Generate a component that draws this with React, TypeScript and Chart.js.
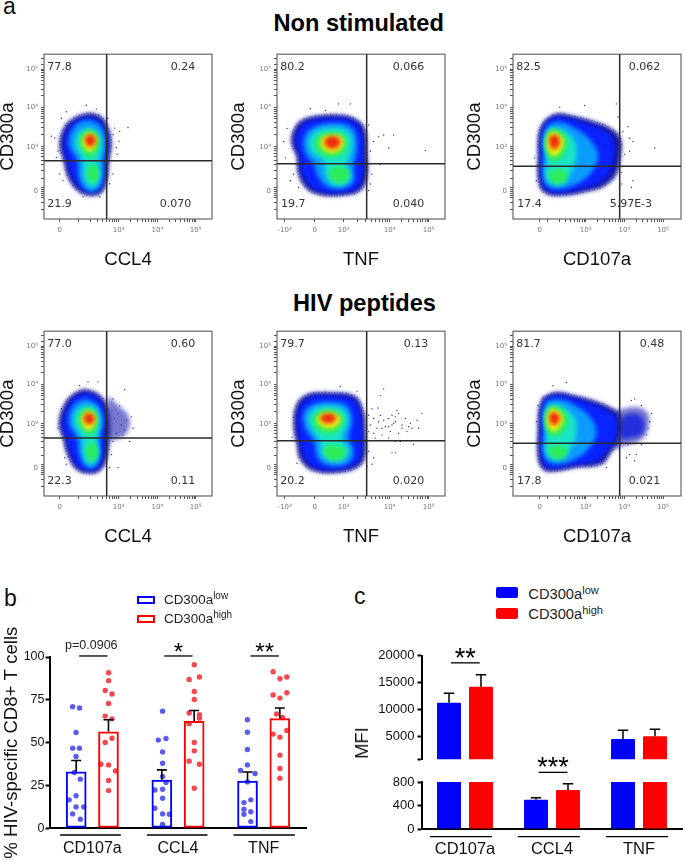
import React, { useEffect, useRef } from "react";
import { Chart, registerables } from "chart.js";

Chart.register(...registerables);

// ---------- Flow plots: axis channels run 0..504 on both axes ----------
const yTickValues = [458, 342, 221, 84];
const yTickLabels = ["10⁵", "10⁴", "10³", "0"];
const ccl4TickValues = [47, 103, 224, 340, 455];
const ccl4TickLabels = ["0", "", "10³", "10⁴", "10⁵"];
const tnfTickValues = [23, 113, 200, 338, 455];
const tnfTickLabels = ["-10³", "0", "10³", "10⁴", "10⁵"];
const cd107TickValues = [80, 104, 218, 334, 450];
const cd107TickLabels = ["0", "", "10³", "10⁴", "10⁵"];

const p1Navy = [[137,325],[172,313],[195,273],[202,228],[195,178],[189,118],[172,80],[142,71],[102,86],[72,128],[59,178],[47,228],[62,283],[97,313]];
const p1Blue = [[137,312],[165,300],[185,265],[190,225],[185,178],[180,120],[165,92],[142,84],[108,97],[82,135],[70,178],[60,228],[75,278],[105,303]];
const p1Azure = [[137,303],[167,288],[185,238],[179,178],[175,118],[157,88],[132,86],[107,118],[99,178],[75,228],[85,273],[107,296]];
const p1Cyan = [[135,280],[162,266],[172,228],[165,178],[167,128],[152,100],[135,100],[119,128],[117,178],[95,223],[102,263]];
const p1GreenUp = [[137,273],[159,258],[167,233],[152,198],[137,188],[119,203],[105,233],[115,260]];
const p1GreenLow = [[147,171],[163,148],[160,123],[147,110],[133,123],[130,148]];
const p1Yellow = [[137,265],[155,253],[157,233],[147,210],[135,206],[122,218],[115,238],[122,256]];
const p1Red = [[139,260],[153,250],[154,233],[142,221],[129,226],[123,240],[127,253]];
const p1Dots = [[207,258],[227,268],[252,280],[217,218],[212,178],[207,138],[42,208],[32,248],[22,253],[52,308],[67,328],[127,348],[157,336],[192,308],[47,138],[57,118],[117,68],[167,68],[197,108],[37,188],[212,278],[219,198],[225,238]];

const p2Navy = [[115,315],[175,319],[230,309],[263,277],[270,197],[270,127],[250,87],[195,72],[125,75],[85,97],[63,142],[60,187],[43,237],[55,282],[80,305]];
const p2Blue = [[120,305],[175,309],[227,299],[253,269],[260,197],[257,132],[240,95],[195,82],[130,85],[95,107],[73,147],[70,192],[55,237],[67,275],[88,297]];
const p2Azure = [[145,292],[195,292],[230,272],[240,217],[230,157],[230,117],[205,95],[155,97],[125,127],[110,167],[85,202],[80,242],[100,275]];
const p2Cyan = [[155,279],[200,275],[223,252],[223,207],[210,167],[220,127],[200,105],[165,107],[145,137],[140,177],[110,197],[95,237],[120,269]];
const p2GreenUp = [[160,265],[195,259],[210,237],[200,202],[170,189],[135,197],[113,222],[125,255]];
const p2GreenLow = [[185,162],[210,152],[217,132],[200,112],[175,112],[157,132],[163,152]];
const p2Yellow = [[160,257],[187,255],[200,237],[190,212],[165,202],[140,212],[130,232],[140,252]];
const p2Red = [[163,254],[183,249],[190,235],[180,219],[163,215],[148,222],[142,237],[150,249]];
const p2Dots = [[275,287],[290,237],[305,252],[335,217],[320,257],[350,257],[445,210],[280,207],[285,137],[280,107],[20,237],[30,277],[25,187],[40,117],[50,137],[65,97],[185,352],[220,352],[100,337],[145,332],[310,167],[275,87]];

const p3Navy = [[95,302],[130,322],[180,315],[240,299],[290,279],[322,247],[322,187],[310,137],[275,102],[225,85],[150,72],[100,77],[78,107],[75,197],[78,267]];
const p3Blue = [[98,294],[130,312],[180,305],[235,287],[280,267],[302,237],[302,187],[290,142],[260,112],[220,97],[150,82],[105,87],[87,112],[83,197],[86,262]];
const p3Azure = [[105,287],[140,297],[190,275],[235,237],[255,192],[235,142],[190,107],[140,92],[102,102],[90,137],[92,197],[90,252]];
const p3Cyan = [[115,279],[150,272],[185,237],[190,192],[175,142],[150,109],[115,107],[97,132],[102,187],[95,242]];
const p3GreenUp = [[122,275],[150,262],[165,232],[150,192],[125,175],[102,197],[98,242],[105,267]];
const p3GreenLow = [[135,155],[160,142],[158,117],[135,107],[112,119],[110,142]];
const p3Yellow = [[122,267],[143,255],[152,232],[138,202],[120,192],[105,212],[102,242],[110,262]];
const p3Red = [[123,259],[137,250],[140,232],[130,215],[117,215],[110,232],[110,249]];
const p3Dots = [[330,267],[345,282],[360,237],[335,197],[350,207],[425,217],[360,117],[355,97],[325,107],[310,352],[215,347],[140,342],[65,187],[70,117],[350,247],[315,312],[325,142]];

const p4Cloud = [[192,307],[217,282],[252,247],[255,207],[232,179],[192,177]];
const p4Navy = [[122,327],[162,312],[189,277],[197,207],[189,117],[167,77],[137,69],[97,82],[70,127],[57,177],[45,222],[62,282],[92,314]];
const p4Blue = [[122,315],[157,302],[179,267],[185,207],[179,122],[162,87],[137,79],[102,92],[79,132],[67,177],[57,222],[72,275],[95,305]];
const p4Azure = [[129,297],[162,277],[177,227],[167,177],[167,117],[152,89],[129,87],[107,122],[99,177],[75,222],[82,267],[102,289]];
const p4Cyan = [[132,279],[157,265],[167,222],[160,177],[164,127],[147,99],[129,102],[117,132],[115,177],[92,217],[97,259]];
const p4GreenUp = [[132,269],[155,255],[162,232],[149,195],[133,185],[117,202],[102,232],[110,257]];
const p4GreenLow = [[144,167],[159,147],[159,122],[144,105],[129,122],[127,147]];
const p4Yellow = [[132,262],[149,252],[155,232],[145,207],[132,201],[119,212],[112,232],[119,252]];
const p4Red = [[134,255],[149,245],[151,229],[139,219],[125,223],[119,237],[125,250]];
const p4Dots = [[262,242],[267,207],[242,325],[207,297],[227,275],[212,237],[232,217],[247,232],[217,192],[202,127],[222,87],[197,87],[257,167],[132,349],[162,349],[107,337],[52,267],[42,207],[62,117],[67,97],[207,167],[237,187],[222,252],[242,202]];

const p5Navy = [[145,317],[230,307],[257,267],[265,197],[263,117],[240,87],[185,72],[110,77],[70,112],[60,157],[50,217],[60,282],[95,312]];
const p5Blue = [[145,307],[225,297],[247,262],[255,197],[252,122],[233,97],[185,82],[115,87],[80,122],[70,162],[62,217],[70,275],[100,302]];
const p5Azure = [[150,289],[205,279],[225,237],[215,177],[230,137],[215,102],[165,92],[125,112],[110,167],[85,207],[80,252],[105,279]];
const p5Cyan = [[150,275],[195,267],[213,232],[195,177],[215,142],[200,112],[165,107],[135,127],[130,167],[105,202],[95,242],[115,267]];
const p5GreenUp = [[153,265],[187,255],[200,235],[185,202],[155,189],[125,199],[107,232],[123,257]];
const p5GreenLow = [[175,157],[203,142],[200,119],[175,109],[150,117],[140,139],[153,155]];
const p5Yellow = [[153,257],[180,249],[190,235],[180,215],[155,207],[133,215],[120,235],[132,251]];
const p5Red = [[153,253],[170,249],[177,237],[167,225],[150,222],[135,229],[130,241],[138,249]];
const p5Dots = [[285,267],[303,269],[310,307],[320,327],[275,247],[290,237],[305,227],[320,232],[335,237],[355,242],[365,252],[385,237],[435,252],[420,232],[400,222],[375,217],[350,222],[325,212],[300,207],[280,217],[290,192],[315,187],[340,197],[365,192],[390,197],[405,207],[425,207],[360,262],[345,247],[310,247],[275,197],[295,177],[335,177],[355,167],[370,167],[410,157],[345,132],[355,132],[275,137],[290,117],[285,97],[335,212],[375,207],[315,207],[395,212],[355,227],[345,217],[50,240],[45,180],[190,335],[240,320],[60,100],[270,90]];

const p6Cloud = [[310,262],[370,272],[405,252],[405,207],[385,172],[330,152],[300,147]];
const p6CloudCore = [[325,242],[365,252],[392,232],[388,192],[350,177],[323,177]];
const p6Navy = [[90,302],[130,317],[185,307],[240,292],[290,272],[320,247],[318,177],[290,127],[265,97],[190,87],[120,75],[90,82],[75,117],[75,207],[78,267]];
const p6Blue = [[93,295],[130,307],[185,297],[235,282],[280,262],[310,237],[308,182],[280,137],[250,107],[190,97],[125,85],[95,92],[85,122],[83,207],[86,262]];
const p6Azure = [[100,289],[140,295],[190,275],[235,237],[250,192],[225,142],[185,112],[135,97],[102,107],[90,142],[92,202],[90,252]];
const p6Cyan = [[112,282],[150,272],[185,237],[190,192],[175,147],[150,117],[115,115],[97,137],[102,192],[95,247]];
const p6GreenUp = [[120,277],[150,262],[165,232],[150,197],[125,182],[102,197],[97,242],[105,267]];
const p6GreenLow = [[132,157],[158,147],[158,122],[135,112],[112,122],[108,147]];
const p6Yellow = [[120,269],[142,255],[150,235],[138,207],[120,197],[105,215],[102,242],[110,262]];
const p6Red = [[122,257],[136,250],[140,235],[130,219],[117,219],[110,235],[110,250]];
const p6Dots = [[415,252],[405,207],[365,297],[385,277],[350,127],[370,127],[365,107],[320,87],[340,117],[280,87],[160,347],[120,337],[75,277],[70,227],[400,187],[410,227],[385,157],[345,157],[355,292]];

const navyColor = "#14149c";
const blueColor = "#0a24ff";
const azureColor = "#0c9cff";
const cyanColor = "#18e4c8";
const greenColor = "#2cec58";
const yellowColor = "#f4f010";
const redColor = "#ee2a10";

const flowPlots = [
  { left: 44, top: 51, xTitle: "CCL4", xTicks: ccl4TickValues, xLabels: ccl4TickLabels, gate: [188, 178], titlePad: 3,
    quads: [["77.8", 10, 464], ["0.24", 380, 464], ["21.9", 10, 45], ["0.070", 347, 45]],
    clouds: [], levels: [p1Navy, p1Blue, p1Azure, p1Cyan, p1GreenUp, p1GreenLow, p1Yellow, p1Red], dots: p1Dots },
  { left: 277, top: 51, xTitle: "TNF", xTicks: tnfTickValues, xLabels: tnfTickLabels, gate: [269, 169], titlePad: 1,
    quads: [["80.2", 10, 464], ["0.066", 347, 464], ["19.7", 12, 45], ["0.040", 347, 45]],
    clouds: [], levels: [p2Navy, p2Blue, p2Azure, p2Cyan, p2GreenUp, p2GreenLow, p2Yellow, p2Red], dots: p2Dots },
  { left: 513, top: 51, xTitle: "CD107a", xTicks: cd107TickValues, xLabels: cd107TickLabels, gate: [320, 161], titlePad: 1,
    quads: [["82.5", 10, 464], ["0.062", 347, 464], ["17.4", 13, 45], ["5.97E-3", 290, 45]],
    clouds: [], levels: [p3Navy, p3Blue, p3Azure, p3Cyan, p3GreenUp, p3GreenLow, p3Yellow, p3Red], dots: p3Dots },
  { left: 44, top: 328, xTitle: "CCL4", xTicks: ccl4TickValues, xLabels: ccl4TickLabels, gate: [188, 177], titlePad: 3,
    quads: [["77.0", 10, 464], ["0.60", 380, 464], ["22.3", 10, 45], ["0.11", 380, 45]],
    clouds: [[p4Cloud, "rgba(10,10,170,0.55)"]], levels: [p4Navy, p4Blue, p4Azure, p4Cyan, p4GreenUp, p4GreenLow, p4Yellow, p4Red], dots: p4Dots },
  { left: 277, top: 328, xTitle: "TNF", xTicks: tnfTickValues, xLabels: tnfTickLabels, gate: [269, 169], titlePad: 1,
    quads: [["79.7", 10, 464], ["0.13", 380, 464], ["20.2", 10, 45], ["0.020", 347, 45]],
    clouds: [], levels: [p5Navy, p5Blue, p5Azure, p5Cyan, p5GreenUp, p5GreenLow, p5Yellow, p5Red], dots: p5Dots },
  { left: 513, top: 328, xTitle: "CD107a", xTicks: cd107TickValues, xLabels: cd107TickLabels, gate: [320, 161], titlePad: 1,
    quads: [["81.7", 10, 464], ["0.48", 380, 464], ["17.8", 12, 45], ["0.021", 347, 45]],
    clouds: [[p6Cloud, "rgba(10,10,170,0.55)"], [p6CloudCore, "rgba(16,30,225,0.8)"]], levels: [p6Navy, p6Blue, p6Azure, p6Cyan, p6GreenUp, p6GreenLow, p6Yellow, p6Red], dots: p6Dots },
];
const levelColors = [navyColor, blueColor, azureColor, cyanColor, greenColor, greenColor, yellowColor, redColor];

// ---------- Panel b ----------
const categories = ["CD107a", "CCL4", "TNF"];
const pctLow = [33.1, 28.3, 27.7];
const pctHigh = [56.5, 62.6, 64.3];
const pctLowUpper = [39.6, 34.1, 32.9];
const pctHighUpper = [63.4, 68.8, 70.2];
const dotsLow = [
  [.27,71],[.35,70.2],[.31,55.9],[.27,46.8],[.35,46.8],[.31,41.9],[.29,32.6],[.36,28.7],[.31,19],[.23,16.6],[.31,12.5],[.40,12.5],[.27,8.4],[.36,5.3],
  [1.32,68.4],[1.27,51.5],[1.36,52.4],[1.32,44.6],[1.32,38],[1.32,30.2],[1.36,26.7],[1.23,22.4],[1.32,22.8],[1.32,17.5],[1.23,11.7],[1.32,8.4],[1.40,8.2],[1.32,2.3],
  [2.31,63.4],[2.31,56.1],[2.31,46],[2.31,37],[2.23,33.7],[2.40,32],[2.31,27.1],[2.35,16.6],[2.27,15],[2.27,11.1],[2.35,9.7],[2.27,8.2],[2.35,3.9],
];
const dotsHigh = [
  [.69,90.8],[.69,86.2],[.65,80.5],[.73,78.4],[.69,72.9],[.65,65.5],[.73,63.9],[.73,52.6],[.65,50.1],[.60,37.4],[.69,37],[.77,33.5],[.69,27.9],[.69,22],
  [1.69,95.5],[1.63,86.9],[1.75,88.3],[1.69,79.9],[1.69,75.2],[1.63,67.3],[1.75,66.3],[1.75,64.3],[1.63,61],[1.69,50.1],[1.69,45.2],[1.63,39.2],[1.75,37.4],[1.69,23.4],
  [2.61,91.4],[2.69,87.3],[2.77,88.3],[2.61,77.8],[2.77,79.1],[2.69,76],[2.65,66.7],[2.72,64.7],[2.61,55],[2.77,57.1],[2.69,53.2],[2.69,42.7],[2.69,34.9],[2.69,29.2],
];
const pctBrackets = [[.125,.833],[1.136,1.844],[2.148,2.864]];
const pctSig = [[.346,.677,"p=0.0906"],[1.339,1.67,"*"],[2.346,2.677,"**"]];

// ---------- Panel c ----------
const mfiLow = [11322, 499, 4600];
const mfiHigh = [14253, 664, 5115];
const mfiLowUpper = [13046, 533, 6207];
const mfiHighUpper = [16494, 772, 6380];
const mfiBrackets = [[.096,.808],[1.107,1.82],[2.119,2.835]];
const mfiSigUpper = [[.337,.67,"**"]];
const mfiSigLower = [[1.345,1.678,"***"]];

const SANS = "'Liberation Sans', Arial, sans-serif";
const closed = (a: number[][]) => [...a, a[0]].map(([x, y]) => ({ x, y }));
const points = (a: number[][]) => a.map(([x, y]) => ({ x, y }));

function withMinors(majors: number[], labelled: number[]) {
  const out = new Set<number>(majors);
  const deg = [...labelled].sort((p, q) => p - q);
  for (let i = 0; i + 1 < deg.length; i++) {
    const span = deg[i + 1] - deg[i];
    for (let k = 2; k < 10; k++) out.add(Math.round(deg[i] + span * Math.log10(k)));
  }
  return [...out];
}

function makeFlow(canvas: HTMLCanvasElement, plot: any) {
  const datasets: any[] = [];
  const layers = [
    ...plot.clouds.map(([a, c]: any) => ({ a, c })),
    ...plot.levels.map((a: number[][], i: number) => ({ a, c: levelColors[i] })),
  ];
  layers.forEach((l: any, i: number) => {
    datasets.push({
      data: closed(l.a), showLine: true, fill: "shape", backgroundColor: l.c, tension: 0.4,
      borderColor: "transparent", borderWidth: 0, pointRadius: 0, order: layers.length - i,
    });
  });
  // speckled rim of the population
  datasets.push({
    data: closed(plot.levels[0]), isDots: true, showLine: true, fill: false, tension: 0.4,
    borderColor: "rgba(30,30,130,0.5)", borderWidth: 1.5, borderDash: [0.7, 2.3, 1.2, 1.6], pointRadius: 0, order: -1,
  });
  datasets.push({ data: points(plot.dots), isDots: true, showLine: false, pointRadius: 0.7, pointBorderWidth: 0, pointBackgroundColor: "#30309a", order: -2 });

  const xDeg = plot.xTicks.filter((_: number, i: number) => i >= 1);
  const xAll = withMinors(plot.xTicks, xDeg.slice(plot.xLabels[1] === "" ? 0 : 1));
  const yAll = withMinors(yTickValues, [84, 221, 342, 458]).concat([30, 50, 66, 72, 78, 90, 96, 474, 490]);
  const quadPlugin = {
    id: "flowLayer",
    beforeDatasetsDraw(c: any) { c.ctx.filter = "blur(2px)"; },
    beforeDatasetDraw(c: any, a: any) { c.ctx.filter = c.data.datasets[a.index].isDots ? "none" : "blur(2px)"; },
    afterDatasetsDraw(c: any) {
      const { ctx, chartArea: ca, scales } = c;
      ctx.filter = "none";
      ctx.save();
      ctx.strokeStyle = "#666"; ctx.lineWidth = 1.2;
      ctx.strokeRect(ca.left, ca.top, ca.right - ca.left, ca.bottom - ca.top);
      ctx.strokeStyle = "#2a2a2a"; ctx.lineWidth = 1.5;
      const gx = scales.x.getPixelForValue(plot.gate[0]);
      const gy = scales.y.getPixelForValue(plot.gate[1]);
      ctx.beginPath(); ctx.moveTo(gx, ca.top); ctx.lineTo(gx, ca.bottom);
      ctx.moveTo(ca.left, gy); ctx.lineTo(ca.right, gy); ctx.stroke();
      ctx.fillStyle = "#333"; ctx.font = "11px 'DejaVu Sans'"; ctx.textBaseline = "middle"; ctx.textAlign = "left";
      plot.quads.forEach(([t, x, y]: any) => ctx.fillText(t, scales.x.getPixelForValue(x), scales.y.getPixelForValue(y)));
      ctx.restore();
    },
  };
  const tickFont = { family: "'DejaVu Sans'", size: 7 };
  return new Chart(canvas, {
    type: "scatter",
    data: { datasets },
    plugins: [quadPlugin],
    options: {
      animation: false, responsive: false, devicePixelRatio: 1,
      layout: { padding: { left: 0, top: 4, right: 4, bottom: 0 } },
      plugins: { legend: { display: false }, tooltip: { enabled: false } },
      events: [],
      scales: {
        x: {
          type: "linear", min: 0, max: 504,
          grid: { drawOnChartArea: false, tickLength: 3, tickColor: "#555", tickWidth: 1 },
          border: { display: false },
          afterBuildTicks: (s: any) => { s.ticks = xAll.map((value: number) => ({ value })); },
          afterFit: (s: any) => { s.height = 52; },
          ticks: {
            autoSkip: false, maxRotation: 0, color: "#777", font: tickFont, padding: 4,
            callback: (v: any) => { const i = plot.xTicks.indexOf(v); return i >= 0 ? plot.xLabels[i] : ""; },
          },
          title: { display: true, text: plot.xTitle, color: "#111", font: { family: SANS, size: 18.6 }, padding: { top: 3, bottom: 0 } },
        },
        y: {
          type: "linear", min: 0, max: 504,
          grid: { drawOnChartArea: false, tickLength: 3, tickColor: "#555", tickWidth: 1 },
          border: { display: false },
          afterBuildTicks: (s: any) => { s.ticks = yAll.map((value: number) => ({ value })); },
          afterFit: (s: any) => { s.width = 50; },
          ticks: {
            autoSkip: false, color: "#777", font: tickFont, padding: 3,
            callback: (v: any) => { const i = yTickValues.indexOf(v); return i >= 0 ? yTickLabels[i] : ""; },
          },
          title: { display: true, text: "CD300a", color: "#111", font: { family: SANS, size: 18.6 }, padding: { top: plot.titlePad, bottom: 0 } },
        },
      },
    } as any,
  });
}

function overlayPlugin(cfg: { capWidth: number; lineWidth: number; brackets: number[][]; bracketY: number; sig: any[]; sigAt: number; starFont: string; textFont: string }) {
  return {
    id: "overlay",
    afterDatasetsDraw(c: any) {
      const { ctx, scales } = c;
      ctx.save();
      ctx.strokeStyle = "#000"; ctx.fillStyle = "#000";
      c.data.datasets.forEach((d: any, i: number) => {
        if (!d.upper) return;
        c.getDatasetMeta(i).data.forEach((bar: any, j: number) => {
          const v = d.data[j]; const u = d.upper[j];
          if (v < scales.y.min || u > scales.y.max) return;
          const y0 = scales.y.getPixelForValue(v); const y1 = scales.y.getPixelForValue(u);
          ctx.lineWidth = cfg.lineWidth;
          ctx.beginPath(); ctx.moveTo(bar.x, y0); ctx.lineTo(bar.x, y1);
          ctx.moveTo(bar.x - cfg.capWidth / 2, y1); ctx.lineTo(bar.x + cfg.capWidth / 2, y1); ctx.stroke();
        });
      });
      ctx.lineWidth = 1.3;
      cfg.brackets.forEach(([a, b]) => {
        ctx.beginPath();
        ctx.moveTo(scales.xUnits.getPixelForValue(a), scales.y.bottom + cfg.bracketY);
        ctx.lineTo(scales.xUnits.getPixelForValue(b), scales.y.bottom + cfg.bracketY);
        ctx.stroke();
      });
      cfg.sig.forEach(([a, b, text]) => {
        const y = scales.y.getPixelForValue(cfg.sigAt);
        const x0 = scales.xUnits.getPixelForValue(a); const x1 = scales.xUnits.getPixelForValue(b);
        ctx.beginPath(); ctx.moveTo(x0, y); ctx.lineTo(x1, y); ctx.stroke();
        ctx.textAlign = "center";
        if (text.startsWith("*")) {
          ctx.font = cfg.starFont; ctx.textBaseline = "alphabetic"; ctx.fillText(text, (x0 + x1) / 2, y + 4);
        } else {
          ctx.font = cfg.textFont; ctx.fillStyle = "#222"; ctx.textBaseline = "middle"; ctx.fillText(text, (x0 + x1) / 2 - 2, y - 10); ctx.fillStyle = "#000";
        }
      });
      ctx.restore();
    },
  };
}

const sharedY = (extra: any) => ({
  border: { color: "#000", width: 2 },
  grid: { drawOnChartArea: false, tickLength: 4, tickColor: "#000", tickWidth: 2 },
  ...extra,
});

function makePctDots(canvas: HTMLCanvasElement) {
  return new Chart(canvas, {
    type: "scatter",
    data: {
      datasets: [
        { data: points(dotsLow), pointRadius: 2.7, pointBorderWidth: 0, pointBackgroundColor: "#5a5cf0" },
        { data: points(dotsHigh), pointRadius: 2.7, pointBorderWidth: 0, pointBackgroundColor: "#f2484e" },
      ],
    },
    options: {
      animation: false, responsive: false, devicePixelRatio: 1, events: [],
      layout: { padding: { left: 49.5, top: 37, right: 33.5, bottom: 32.7 } },
      plugins: { legend: { display: false }, tooltip: { enabled: false } },
      scales: {
        x: { type: "linear", display: false, min: 0, max: 3 },
        y: { type: "linear", display: false, min: 0, max: 100 },
      },
    } as any,
  });
}

function makePct(canvas: HTMLCanvasElement) {
  return new Chart(canvas, {
    type: "bar",
    data: {
      labels: categories,
      datasets: [
        { data: pctLow, upper: pctLowUpper, backgroundColor: "transparent", borderColor: "#0000ff", borderWidth: 2, borderSkipped: false, categoryPercentage: 0.754, barPercentage: 0.64 },
        { data: pctHigh, upper: pctHighUpper, backgroundColor: "transparent", borderColor: "#ff0000", borderWidth: 2, borderSkipped: false, categoryPercentage: 0.754, barPercentage: 0.64 },
      ],
    },
    plugins: [overlayPlugin({ capWidth: 10, lineWidth: 1.6, brackets: pctBrackets, bracketY: 6.7, sig: pctSig, sigAt: 100.6, starFont: `24px ${SANS}`, textFont: `12.5px ${SANS}` })],
    options: {
      animation: false, responsive: false, devicePixelRatio: 1, events: [],
      layout: { padding: { left: 0, top: 37, right: 33.5, bottom: 0 } },
      plugins: { legend: { display: false }, tooltip: { enabled: false } },
      scales: {
        x: {
          type: "category", grid: { display: false, drawTicks: false }, border: { color: "#000", width: 2 },
          afterFit: (s: any) => { s.height = 32.7; },
          ticks: { color: "#111", font: { family: SANS, size: 16 }, padding: 11, maxRotation: 0 },
        },
        xUnits: { type: "linear", display: false, min: 0, max: 3, offset: false },
        y: sharedY({
          min: 0, max: 100,
          afterFit: (s: any) => { s.width = 49.5; },
          ticks: { stepSize: 25, color: "#111", font: { family: SANS, size: 12.5 }, padding: 1 },
          title: { display: true, text: "% HIV-specific CD8+ T cells", color: "#111", font: { family: SANS, size: 18.6 }, padding: { top: 1, bottom: 0 } },
        }),
      },
    } as any,
  });
}

function mfiDatasets() {
  return [
    { data: mfiLow, upper: mfiLowUpper, backgroundColor: "#0000ff", borderRadius: 1, borderSkipped: false, categoryPercentage: 0.735, barPercentage: 0.75 },
    { data: mfiHigh, upper: mfiHighUpper, backgroundColor: "#ff0000", borderRadius: 1, borderSkipped: false, categoryPercentage: 0.735, barPercentage: 0.75 },
  ];
}

function makeMfiUpper(canvas: HTMLCanvasElement) {
  return new Chart(canvas, {
    type: "bar",
    data: { labels: categories, datasets: mfiDatasets() as any },
    plugins: [overlayPlugin({ capWidth: 10.5, lineWidth: 1.5, brackets: [], bracketY: 0, sig: mfiSigUpper, sigAt: 18678, starFont: `27px ${SANS}`, textFont: `12px ${SANS}` })],
    options: {
      animation: false, responsive: false, devicePixelRatio: 1, events: [],
      layout: { padding: { left: 0, top: 25.7, right: 2.5, bottom: 0 } },
      plugins: { legend: { display: false }, tooltip: { enabled: false } },
      scales: {
        x: { type: "category", display: false, grid: { display: false } },
        xUnits: { type: "linear", display: false, min: 0, max: 3, offset: false },
        y: sharedY({
          min: 860, max: 20000,
          afterFit: (s: any) => { s.width = 81.5; },
          afterBuildTicks: (s: any) => { s.ticks = [860, 5000, 10000, 15000, 20000].map((value) => ({ value })); },
          ticks: { color: "#111", font: { family: SANS, size: 13 }, padding: 3, callback: (v: any) => (v === 860 ? "" : String(v)) },
        }),
      },
    } as any,
  });
}

function makeMfiLower(canvas: HTMLCanvasElement) {
  return new Chart(canvas, {
    type: "bar",
    data: { labels: categories, datasets: mfiDatasets() as any },
    plugins: [overlayPlugin({ capWidth: 10.5, lineWidth: 1.5, brackets: mfiBrackets, bracketY: 7.7, sig: mfiSigLower, sigAt: 964, starFont: `27px ${SANS}`, textFont: `12px ${SANS}` })],
    options: {
      animation: false, responsive: false, devicePixelRatio: 1, events: [],
      layout: { padding: { left: 0, top: 37, right: 2.5, bottom: 0 } },
      plugins: { legend: { display: false }, tooltip: { enabled: false } },
      scales: {
        x: {
          type: "category", grid: { display: false, drawTicks: false }, border: { color: "#000", width: 2 },
          afterFit: (s: any) => { s.height = 32; },
          ticks: { color: "#111", font: { family: SANS, size: 16.5 }, padding: 11, maxRotation: 0 },
        },
        xUnits: { type: "linear", display: false, min: 0, max: 3, offset: false },
        y: sharedY({
          min: 0, max: 800,
          afterFit: (s: any) => { s.width = 81.5; },
          ticks: { stepSize: 400, color: "#111", font: { family: SANS, size: 13 }, padding: 3 },
        }),
      },
    } as any,
  });
}

const abs = (left: number, top: number, extra: React.CSSProperties = {}): React.CSSProperties => ({ position: "absolute", left, top, whiteSpace: "nowrap", ...extra });

function LegendRow({ x, y, size, supSize, label, sup }: { x: number; y: number; size: number; supSize: number; label: string; sup: string }) {
  return (
    <div style={abs(x, y - size * 0.6, { fontSize: size, lineHeight: `${size * 1.2}px`, color: "#222" })}>
      {label}
      <span style={{ fontSize: supSize, position: "relative", top: -size * 0.36 }}>{sup}</span>
    </div>
  );
}

export default function App() {
  const flowRefs = useRef<(HTMLCanvasElement | null)[]>([]);
  const pctDotsRef = useRef<HTMLCanvasElement>(null);
  const pctRef = useRef<HTMLCanvasElement>(null);
  const upperRef = useRef<HTMLCanvasElement>(null);
  const lowerRef = useRef<HTMLCanvasElement>(null);

  useEffect(() => {
    const charts = [
      ...flowPlots.map((p, i) => makeFlow(flowRefs.current[i]!, p)),
      makePctDots(pctDotsRef.current!),
      makePct(pctRef.current!),
      makeMfiUpper(upperRef.current!),
      makeMfiLower(lowerRef.current!),
    ];
    return () => charts.forEach((c) => c.destroy());
  }, []);

  const letter = (t: string, x: number, base: number) => (
    <div style={abs(x, base - 20, { fontSize: 23, lineHeight: "26px", color: "#111" })}>{t}</div>
  );

  return (
    <div style={{ position: "absolute", left: 0, top: 0, width: 685, height: 861, overflow: "hidden", background: "#fff", fontFamily: SANS }}>
      {letter("a", 3, 13)}
      {letter("b", 4, 605)}
      {letter("c", 354, 603)}
      <div style={abs(358.7, 10, { transform: "translateX(-50%)", fontWeight: 700, fontSize: 23.6, lineHeight: "27px", color: "#000" })}>Non stimulated</div>
      <div style={abs(364.5, 290, { transform: "translateX(-50%)", fontWeight: 700, fontSize: 23.6, lineHeight: "27px", color: "#000" })}>HIV peptides</div>

      {flowPlots.map((p, i) => (
        <canvas key={i} ref={(el) => { flowRefs.current[i] = el; }} width={222} height={224} style={{ position: "absolute", left: p.left - 50, top: p.top - 4 }} />
      ))}

      <canvas ref={pctDotsRef} width={340} height={241} style={{ position: "absolute", left: 0, top: 620 }} />
      <canvas ref={pctRef} width={340} height={241} style={{ position: "absolute", left: 0, top: 620 }} />
      <canvas ref={upperRef} width={345} height={140} style={{ position: "absolute", left: 340, top: 630 }} />
      <canvas ref={lowerRef} width={345} height={116} style={{ position: "absolute", left: 340, top: 745 }} />

      <div style={abs(136.7, 595.5, { width: 14.6, height: 4.6, border: "2px solid #0000ff" })} />
      <div style={abs(136.7, 614.8, { width: 14.6, height: 4.6, border: "2px solid #ff0000" })} />
      <LegendRow x={164} y={600} size={13.4} supSize={10} label="CD300a" sup="low" />
      <LegendRow x={164} y={619} size={13.4} supSize={10} label="CD300a" sup="high" />

      <div style={abs(496, 586.7, { width: 22.3, height: 11.6, background: "#0000ff", borderRadius: 2 })} />
      <div style={abs(496, 608.3, { width: 22.3, height: 11, background: "#ff0000", borderRadius: 2 })} />
      <LegendRow x={528.3} y={595} size={14.7} supSize={11} label="CD300a" sup="low" />
      <LegendRow x={528.3} y={615} size={14.7} supSize={11} label="CD300a" sup="high" />

      <div style={abs(362, 742.7, { transform: "translate(-50%,-50%) rotate(-90deg)", fontSize: 18.4, lineHeight: "22px", color: "#111" })}>MFI</div>
    </div>
  );
}
